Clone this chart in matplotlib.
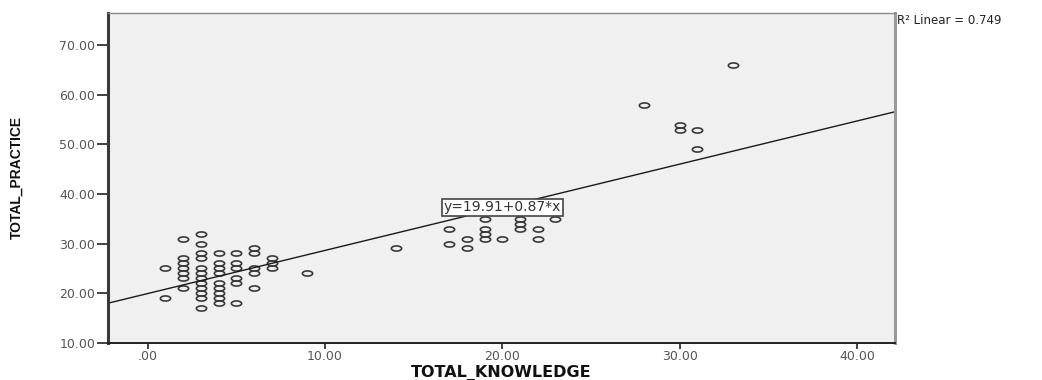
import numpy as np
import matplotlib.pyplot as plt
from matplotlib.path import Path
from matplotlib.transforms import Affine2D

# knowledge / practice scores
knowledge = [1, 1,
             2, 2, 2, 2, 2, 2, 2,
             3, 3, 3, 3, 3, 3, 3, 3, 3, 3, 3, 3,
             4, 4, 4, 4, 4, 4, 4, 4, 4,
             5, 5, 5, 5, 5, 5,
             6, 6, 6, 6, 6,
             7, 7, 7,
             9, 14, 17, 17, 18, 18,
             19, 19, 19, 19, 20, 21, 21, 21, 22, 22, 23,
             28, 30, 30, 31, 31, 33]
practice = [25, 19,
            31, 27, 26, 25, 24, 23, 21,
            32, 30, 28, 27, 25, 24, 23, 22, 21, 20, 19, 17,
            28, 26, 25, 24, 22, 21, 20, 19, 18,
            28, 26, 25, 23, 22, 18,
            29, 28, 25, 24, 21,
            27, 26, 25,
            24, 29, 33, 30, 31, 29,
            35, 33, 32, 31, 31, 35, 34, 33, 33, 31, 35,
            58, 54, 53, 53, 49, 66]

intercept = 19.91
slope = 0.87
r2 = 0.749
eq_x = 20

xticks = [0, 10, 20, 30, 40]
xticklabels = ['.00', '10.00', '20.00', '30.00', '40.00']
yticks = [10, 20, 30, 40, 50, 60, 70]
yticklabels = ['10.00', '20.00', '30.00', '40.00', '50.00', '60.00', '70.00']

xmin, xmax = -2.24, 42.15
ymin, ymax = 10, 76.5

fig = plt.figure(figsize=(10.42, 3.80), dpi=100)
ax = fig.add_axes([0.1036, 0.0982, 0.7553, 0.8676])
ax.set_facecolor('#F0F0F0')

# flat ellipse marker
ell = Path.unit_circle().transformed(Affine2D().scale(1.0, 0.5))
ax.plot(knowledge, practice, linestyle='none', marker=ell, markersize=7.4,
        markerfacecolor='none', markeredgecolor='#3a3a3a', markeredgewidth=1.2)

# fit line
lx = np.array([xmin, xmax])
ax.plot(lx, intercept + slope * lx, color='#1a1a1a', lw=1.0)

ax.text(eq_x, intercept + slope * eq_x, 'y=%.2f+%.2f*x' % (intercept, slope),
        ha='center', va='center', fontsize=10, color='#333333',
        bbox=dict(boxstyle='square,pad=0.12', fc='white', ec='#444444', lw=1.2))

ax.set_xlim(xmin, xmax)
ax.set_ylim(ymin, ymax)
ax.set_xticks(xticks)
ax.set_xticklabels(xticklabels)
ax.set_yticks(yticks)
ax.set_yticklabels(yticklabels)
ax.tick_params(axis='y', direction='out', length=8, width=1.2, colors='#222222',
               labelcolor='#555555', labelsize=9, pad=1)
ax.tick_params(axis='x', direction='out', length=4.5, width=1.2, colors='#222222',
               labelcolor='#555555', labelsize=9, pad=1)

ax.spines['left'].set_color('#3a3a3a')
ax.spines['left'].set_linewidth(2.2)
ax.spines['bottom'].set_color('#222222')
ax.spines['bottom'].set_linewidth(1.4)
ax.spines['right'].set_color('#9a9a9a')
ax.spines['right'].set_linewidth(2.2)
ax.spines['top'].set_color('#8a8a8a')
ax.spines['top'].set_linewidth(1.0)

ax.set_xlabel('TOTAL_KNOWLEDGE', fontsize=11.5, fontweight='bold', color='#111111',
              family='DejaVu Sans', labelpad=1)
ax.set_ylabel('TOTAL_PRACTICE', fontsize=10, fontweight='bold', color='#111111',
              family=['Liberation Sans Narrow', 'Liberation Sans'], labelpad=26)

fig.text(0.861, 0.945, 'R² Linear = %.3f' % r2, fontsize=8.5, color='#222222',
         ha='left', va='center')

fig.savefig('out.png', dpi=100)
